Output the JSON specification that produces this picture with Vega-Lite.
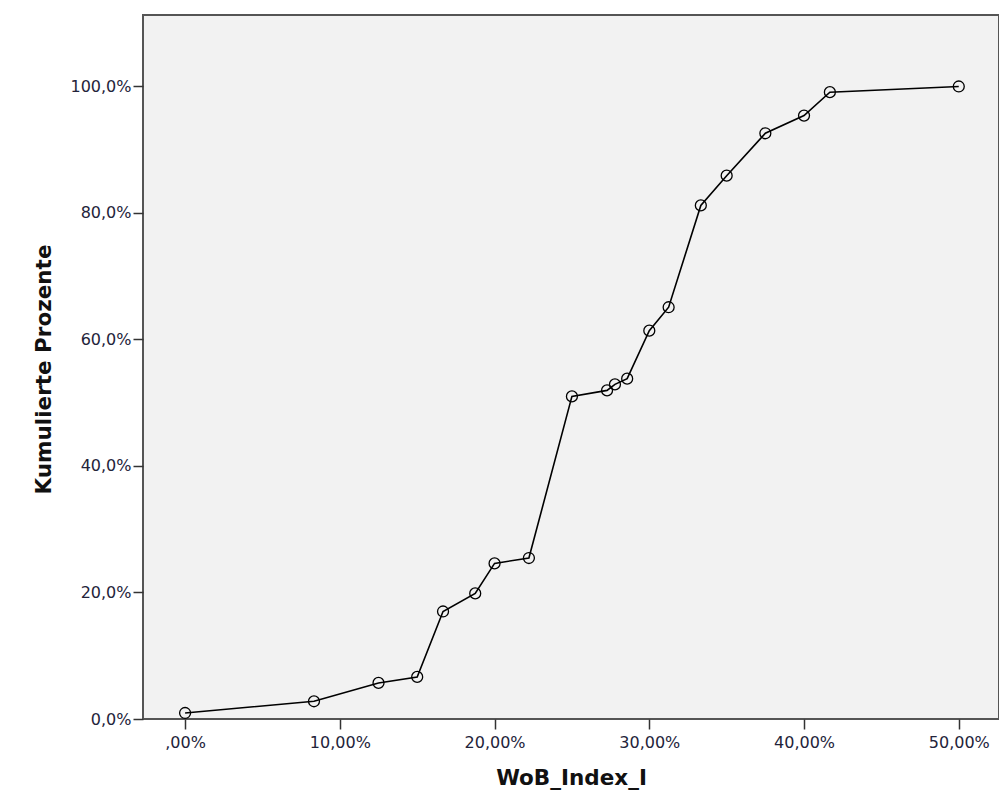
{
  "$schema": "https://vega.github.io/schema/vega-lite/v6.json",
  "width": 856,
  "height": 704,
  "autosize": {"type": "none"},
  "padding": {"left": 143, "top": 15, "right": 0, "bottom": 88},
  "background": "#ffffff",
  "config": {
    "view": {"fill": "#f2f2f2", "stroke": "#555555", "strokeWidth": 2},
    "axis": {
      "labelFont": "DejaVu Sans",
      "labelFontSize": 16,
      "labelColor": "#23233a",
      "titleFont": "DejaVu Sans",
      "titleFontWeight": "bold",
      "titleFontSize": 21.5,
      "titleColor": "#111111",
      "domain": false,
      "grid": false,
      "tickColor": "#333333",
      "tickWidth": 1.5,
      "tickSize": 10
    }
  },
  "data": {
    "values": [
      {"wob": 0, "kum": 0.95},
      {"wob": 8.33, "kum": 2.8},
      {"wob": 12.5, "kum": 5.7},
      {"wob": 15, "kum": 6.65},
      {"wob": 16.67, "kum": 17.0},
      {"wob": 18.75, "kum": 19.85},
      {"wob": 20, "kum": 24.6},
      {"wob": 22.22, "kum": 25.45},
      {"wob": 25, "kum": 51.0},
      {"wob": 27.27, "kum": 51.95},
      {"wob": 27.78, "kum": 52.9},
      {"wob": 28.57, "kum": 53.8},
      {"wob": 30, "kum": 61.4},
      {"wob": 31.25, "kum": 65.1},
      {"wob": 33.33, "kum": 81.2},
      {"wob": 35, "kum": 85.9},
      {"wob": 37.5, "kum": 92.6},
      {"wob": 40, "kum": 95.4},
      {"wob": 41.67, "kum": 99.1},
      {"wob": 50, "kum": 100}
    ]
  },
  "encoding": {
    "x": {
      "field": "wob",
      "type": "quantitative",
      "scale": {"domain": [-2.72, 52.6], "nice": false, "zero": false},
      "axis": {
        "title": "WoB_Index_I",
        "values": [0, 10, 20, 30, 40, 50],
        "labelExpr": "datum.value == 0 ? ',00%' : replace(format(datum.value, '.2f'), '.', ',') + '%'",
        "labelPadding": 5,
        "titleBaseline": "alphabetic",
        "titleY": 65
      }
    },
    "y": {
      "field": "kum",
      "type": "quantitative",
      "scale": {"domain": [0, 111.3], "nice": false, "zero": false},
      "axis": {
        "title": "Kumulierte Prozente",
        "values": [0, 20, 40, 60, 80, 100],
        "labelExpr": "replace(format(datum.value, '.1f'), '.', ',') + '%'",
        "labelPadding": 2,
        "titleBaseline": "alphabetic",
        "titleX": -93,
        "titleY": 354
      }
    }
  },
  "layer": [
    {"mark": {"type": "line", "color": "#000000", "strokeWidth": 1.6}},
    {"mark": {"type": "point", "shape": "circle", "filled": false, "color": "#000000", "size": 120, "strokeWidth": 1.3, "opacity": 1}}
  ]
}
